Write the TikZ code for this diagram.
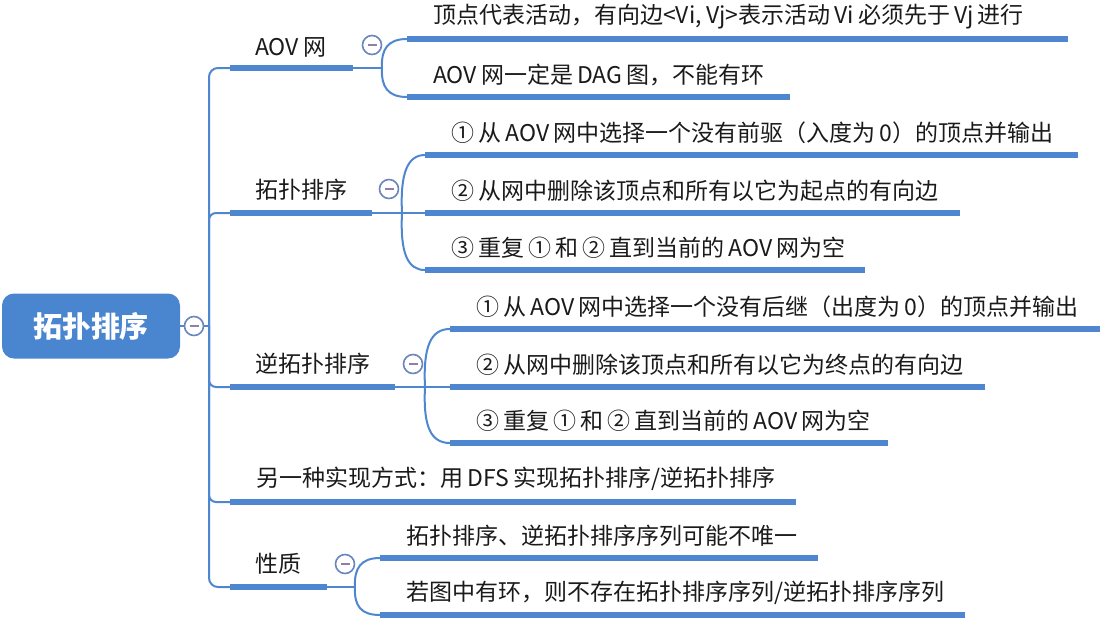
\documentclass[tikz,border=0pt]{standalone}
\usepackage{fontspec}
\setmainfont{Noto Sans CJK SC}[WordSpace=0.8]
\definecolor{lineblue}{HTML}{4E87D0}
\definecolor{rootblue}{HTML}{4A85CF}
\definecolor{knobcol}{HTML}{6A86BE}
\definecolor{minuscol}{HTML}{8E80A8}
\definecolor{txt}{HTML}{1A1A1A}
\tikzset{
  thickline/.style={draw=lineblue, line width=5.5pt},
  thinline/.style={draw=lineblue, line width=2pt},
  rootbox/.style={fill=rootblue, rounded corners=12pt, minimum width=178pt, minimum height=65pt, text=white, inner sep=0pt, font=\fontsize{29}{33}\selectfont\bfseries},
  leveltext/.style={anchor=west, inner sep=0pt, text=txt, font=\fontsize{23}{27}\selectfont},
  knob/.style={circle, draw=knobcol, line width=1.6pt, fill=white, minimum size=19pt, inner sep=0pt,
    path picture={\draw[minuscol, line width=1.6pt] ([xshift=-4.5pt]path picture bounding box.center) -- ([xshift=4.5pt]path picture bounding box.center);}},
}
\begin{document}
\begin{tikzpicture}[x=1pt,y=-1pt]
\useasboundingbox (0,0) rectangle (1120,630);

% root
\node[rootbox] (root) at (91,326) {拓扑排序};
\node[knob] (rk) at (194,326) {};
\coordinate (tr) at (209,326);
\draw[thinline] (root.east) -- (rk.west);
\draw[thinline] (rk.east) -- (tr);

% level-1 anchor coordinates
\coordinate (b1s) at (230,68);  \coordinate (b1e) at (353,68);  \coordinate (f1) at (382,68);
\coordinate (b2s) at (230,213); \coordinate (b2e) at (372,213); \coordinate (f2) at (402,213);
\coordinate (b3s) at (230,387); \coordinate (b3e) at (395,387); \coordinate (f3) at (425,387);
\coordinate (b4s) at (230,502); \coordinate (b4e) at (796,502);
\coordinate (b5s) at (230,587); \coordinate (b5e) at (327,587); \coordinate (f5) at (355,587);

% trunk
\draw[thinline, rounded corners=9pt] (b1s) -| (tr) |- (b5s);
\draw[thinline, rounded corners=7pt] (tr) |- (b2s);
\draw[thinline, rounded corners=7pt] (tr) |- (b3s);
\draw[thinline, rounded corners=7pt] (tr) |- (b4s);

% level-1 branches
\draw[thickline] (b1s) -- (b1e); \draw[thinline] (b1e) -- (f1);
\draw[thickline] (b2s) -- (b2e); \draw[thinline] (b2e) -- (f2);
\draw[thickline] (b3s) -- (b3e); \draw[thinline] (b3e) -- (f3);
\draw[thickline] (b4s) -- (b4e);
\draw[thickline] (b5s) -- (b5e); \draw[thinline] (b5e) -- (f5);

\node[leveltext] (t1) at (255,47) {AOV 网};
\node[leveltext] (t2) at (255,190) {拓扑排序};
\node[leveltext] (t3) at (255,364) {逆拓扑排序};
\node[leveltext] (t4) at (256,479) {另一种实现方式：用 DFS 实现拓扑排序/逆拓扑排序};
\node[leveltext] (t5) at (255,564) {性质};

\node[knob] (k1) at (372,45) {};
\node[knob] (k2) at (389,189) {};
\node[knob] (k3) at (413,364) {};
\node[knob] (k5) at (345,564) {};

% children of AOV网
\coordinate (c11s) at (407,39);  \coordinate (c11e) at (1068,39);
\coordinate (c12s) at (407,97);  \coordinate (c12e) at (790,97);
\draw[thinline] (f1) .. controls (381,49) and (388,39) .. (c11s);
\draw[thinline] (f1) .. controls (381,87) and (388,97) .. (c12s);
\draw[thickline] (c11s) -- (c11e);
\draw[thickline] (c12s) -- (c12e);
\node[leveltext] (s11) at (433,17) {顶点代表活动，有向边<Vi, Vj>表示活动 Vi 必须先于 Vj 进行};
\node[leveltext] (s12) at (433,75) {AOV 网一定是 DAG 图，不能有环};

% children of 拓扑排序
\coordinate (c21s) at (425,155); \coordinate (c21e) at (1078,155);
\coordinate (c22s) at (425,213); \coordinate (c22e) at (960,213);
\coordinate (c23s) at (425,270); \coordinate (c23e) at (865,270);
\draw[thinline] (f2) .. controls (400,172) and (408,155) .. (c21s);
\draw[thinline] (f2) -- (c22s);
\draw[thinline] (f2) .. controls (400,254) and (408,270) .. (c23s);
\draw[thickline] (c21s) -- (c21e);
\draw[thickline] (c22s) -- (c22e);
\draw[thickline] (c23s) -- (c23e);
\node[leveltext] (s21) at (451,133) {① 从 AOV 网中选择一个没有前驱（入度为 0）的顶点并输出};
\node[leveltext] (s22) at (451,191) {② 从网中删除该顶点和所有以它为起点的有向边};
\node[leveltext] (s23) at (451,248) {③ 重复 ① 和 ② 直到当前的 AOV 网为空};

% children of 逆拓扑排序
\coordinate (c31s) at (450,329); \coordinate (c31e) at (1100,329);
\coordinate (c32s) at (450,387); \coordinate (c32e) at (985,387);
\coordinate (c33s) at (450,443); \coordinate (c33e) at (888,443);
\draw[thinline] (f3) .. controls (423,346) and (431,329) .. (c31s);
\draw[thinline] (f3) -- (c32s);
\draw[thinline] (f3) .. controls (423,427) and (431,443) .. (c33s);
\draw[thickline] (c31s) -- (c31e);
\draw[thickline] (c32s) -- (c32e);
\draw[thickline] (c33s) -- (c33e);
\node[leveltext] (s31) at (476,307) {① 从 AOV 网中选择一个没有后继（出度为 0）的顶点并输出};
\node[leveltext] (s32) at (476,365) {② 从网中删除该顶点和所有以它为终点的有向边};
\node[leveltext] (s33) at (476,421) {③ 重复 ① 和 ② 直到当前的 AOV 网为空};

% children of 性质
\coordinate (c51s) at (380,558); \coordinate (c51e) at (818,558);
\coordinate (c52s) at (380,615); \coordinate (c52e) at (965,615);
\draw[thinline] (f5) .. controls (354,568) and (361,558) .. (c51s);
\draw[thinline] (f5) .. controls (354,606) and (361,615) .. (c52s);
\draw[thickline] (c51s) -- (c51e);
\draw[thickline] (c52s) -- (c52e);
\node[leveltext] (s51) at (406,536) {拓扑排序、逆拓扑排序序列可能不唯一};
\node[leveltext] (s52) at (406,593) {若图中有环，则不存在拓扑排序序列/逆拓扑排序序列};
\end{tikzpicture}
\end{document}
